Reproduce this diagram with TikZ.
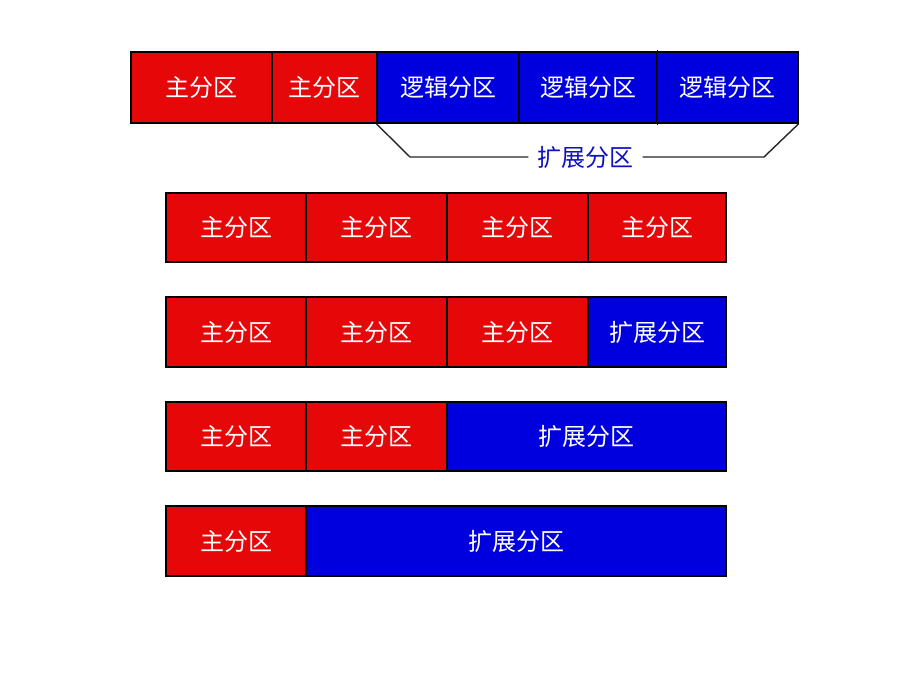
\documentclass[tikz,border=0pt]{standalone}
\usepackage{fontspec}
\newfontfamily\cjk{Noto Sans CJK SC}
\definecolor{pred}{RGB}{230,8,8}
\definecolor{pblue}{RGB}{0,0,222}
\definecolor{dblue}{RGB}{0,0,150}
\definecolor{btext}{RGB}{16,16,200}
\begin{document}
\begin{tikzpicture}[x=1pt,y=-1pt,
  cell/.style={draw=black,line width=1.4pt,inner sep=0pt,text=white,
    font=\cjk\fontsize{24}{24}\selectfont},
  redcell/.style={cell,fill=pred},
  bluecell/.style={cell,fill=pblue},
  brk/.style={draw=black!85,line width=1.4pt},
]
\useasboundingbox[fill=white] (0,0) rectangle (920,690);
% row 1
\node[redcell,minimum width=141pt,minimum height=71pt] (a1) at (201.5,87.5) {主分区};
\node[redcell,minimum width=105pt,minimum height=71pt] (a2) at (324.5,87.5) {主分区};
\node[bluecell,minimum width=142pt,minimum height=71pt] (l1) at (448,87.5) {逻辑分区};
\node[bluecell,minimum width=138pt,minimum height=71pt] (l2) at (588,87.5) {逻辑分区};
\node[bluecell,minimum width=141pt,minimum height=71pt] (l3) at (727.5,87.5) {逻辑分区};
\draw[dblue,line width=1.4pt] ([yshift=1pt]l2.north east) -- ([yshift=-1pt]l2.south east);
% bracket
\node[text=btext,font=\cjk\fontsize{24}{24}\selectfont,inner xsep=9pt,inner ysep=0pt] (ext) at (585.5,157) {扩展分区};
\coordinate (bl) at (410,157);
\coordinate (br) at (764,157);
\draw[brk] (l1.south west) -- (bl) -- (ext.west);
\draw[brk] (ext.east) -- (br) -- (l3.south east);
% row 2
\node[redcell,minimum width=140pt,minimum height=69pt] (b1) at (236,227.5) {主分区};
\node[redcell,minimum width=141pt,minimum height=69pt] (b2) at (376.5,227.5) {主分区};
\node[redcell,minimum width=141pt,minimum height=69pt] (b3) at (517.5,227.5) {主分区};
\node[redcell,minimum width=138pt,minimum height=69pt] (b4) at (657,227.5) {主分区};
% row 3
\node[redcell,minimum width=140pt,minimum height=70pt] (c1) at (236,332) {主分区};
\node[redcell,minimum width=141pt,minimum height=70pt] (c2) at (376.5,332) {主分区};
\node[redcell,minimum width=141pt,minimum height=70pt] (c3) at (517.5,332) {主分区};
\node[bluecell,minimum width=138pt,minimum height=70pt] (c4) at (657,332) {扩展分区};
% row 4
\node[redcell,minimum width=140pt,minimum height=69pt] (d1) at (236,436.5) {主分区};
\node[redcell,minimum width=141pt,minimum height=69pt] (d2) at (376.5,436.5) {主分区};
\node[bluecell,minimum width=279pt,minimum height=69pt] (d3) at (586.5,436.5) {扩展分区};
% row 5
\node[redcell,minimum width=140pt,minimum height=70pt] (e1) at (236,541) {主分区};
\node[bluecell,minimum width=420pt,minimum height=70pt] (e2) at (516,541) {扩展分区};
\end{tikzpicture}
\end{document}
